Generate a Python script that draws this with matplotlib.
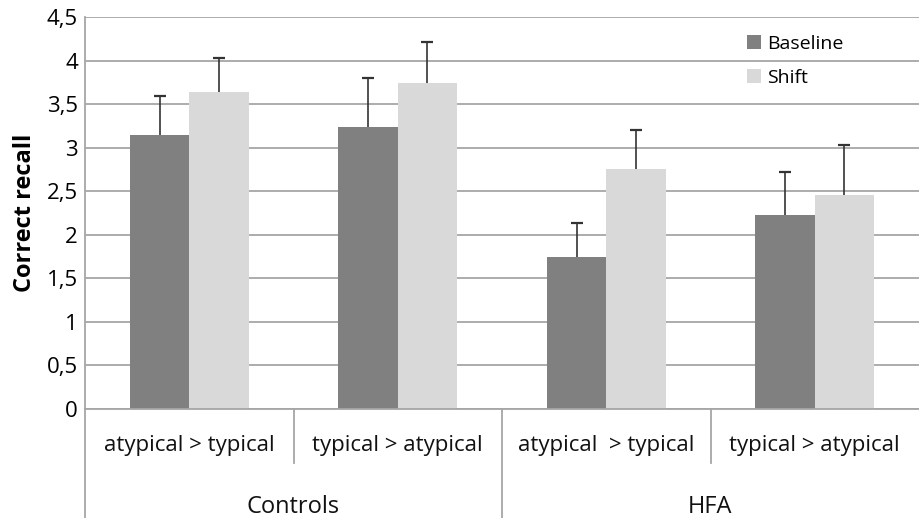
import matplotlib
matplotlib.use('Agg')
import matplotlib.pyplot as plt
import numpy as np

# data
conditions = ['atypical > typical', 'typical > atypical', 'atypical  > typical', 'typical > atypical']
groups = ['Controls', 'HFA']
baseline = [3.15, 3.24, 1.75, 2.23]
baseline_err = [0.44, 0.56, 0.39, 0.49]
shift = [3.64, 3.74, 2.76, 2.46]
shift_err = [0.39, 0.47, 0.44, 0.57]
yticks = [0, 0.5, 1, 1.5, 2, 2.5, 3, 3.5, 4, 4.5]

plt.rcParams['font.family'] = ['Open Sans', 'DejaVu Sans']

W, H = 919, 518
fig = plt.figure(figsize=(W / 100, H / 100), dpi=100)
ax = fig.add_axes([85 / W, (H - 409) / H, (W - 85) / W, (409 - 17) / H])

x = np.arange(len(conditions))
bw = 0.285
dark = '#808080'
light = '#d9d9d9'
grid_c = '#a6a6a6'
err_c = '#333333'

ax.bar(x - bw / 2, baseline, bw, color=dark, label='Baseline', zorder=2)
ax.bar(x + bw / 2, shift, bw, color=light, label='Shift', zorder=2)

# upward-only error bars
for xs, vals, errs in [(x - bw / 2, baseline, baseline_err), (x + bw / 2, shift, shift_err)]:
    tops = np.array(vals) + np.array(errs)
    ax.vlines(xs, vals, tops, color=err_c, lw=1.2, zorder=3)
    ax.plot(xs, tops, ls='none', marker='_', ms=8, mew=1.6, color=err_c, zorder=3)

ax.set_xlim(-0.5, len(conditions) - 0.5)
ax.set_ylim(0, 4.5)
ax.set_yticks(yticks)
ax.set_yticklabels([f'{v:g}'.replace('.', ',') for v in yticks], fontsize=16)
ax.yaxis.grid(True, color=grid_c, linewidth=1.3, zorder=0)
ax.tick_params(axis='y', length=0, pad=5)
ax.set_xticks([])
for s in ['top', 'right', 'bottom']:
    ax.spines[s].set_visible(False)
ax.spines['left'].set_color(grid_c)
ax.spines['left'].set_linewidth(1.3)
ax.set_ylabel('Correct recall', fontsize=17, fontweight='bold', labelpad=7)

# two-level category axis below the plot
ax.plot([-0.5, 3.5], [0, 0], color=grid_c, lw=1.3, clip_on=False, zorder=4)
for i, lab in enumerate(conditions):
    ax.text(i, -0.42, lab, ha='center', va='center', fontsize=16, color='#111111')
for d in [0.5, 2.5]:
    ax.plot([d, d], [0, -0.62], color=grid_c, lw=1.3, clip_on=False)
ax.plot([1.5, 1.5], [0, -1.25], color=grid_c, lw=1.3, clip_on=False)
ax.plot([-0.5, -0.5], [0, -1.25], color=grid_c, lw=1.3, clip_on=False)
for j, g in enumerate(groups):
    ax.text(2 * j + 0.5, -1.12, g, ha='center', va='center', fontsize=17, color='#111111')

leg = ax.legend(loc='upper left', bbox_to_anchor=(0.785, 0.975), frameon=False,
                fontsize=14, handlelength=0.7, handleheight=0.7, handletextpad=0.3,
                labelspacing=0.85, borderaxespad=0)

fig.savefig('out.png', dpi=100)
